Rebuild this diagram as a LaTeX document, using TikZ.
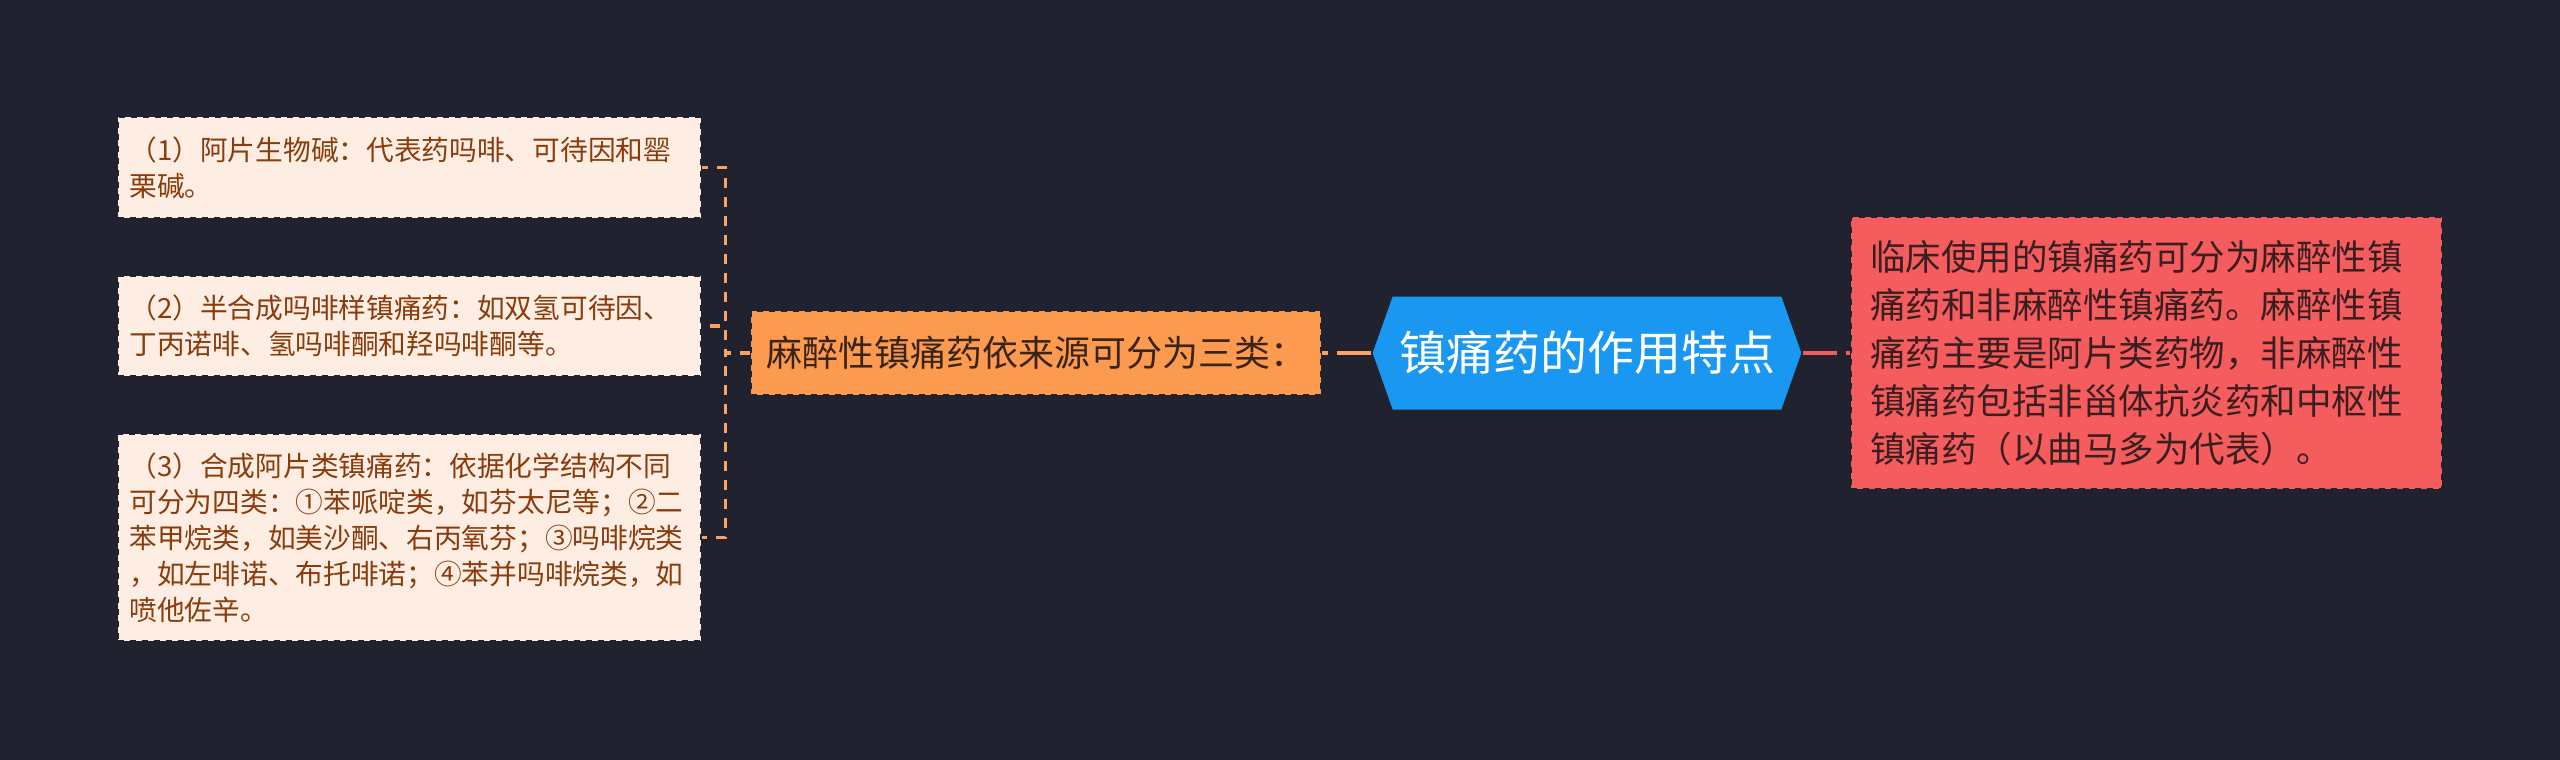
\documentclass[tikz,border=0pt]{standalone}
\usepackage{fontspec}
\newfontfamily\cjk{Noto Sans CJK SC}
\usepackage{tikz}
\usetikzlibrary{shapes, arrows.meta, positioning}
\definecolor{bgc}{HTML}{20232F}
\definecolor{leaffill}{HTML}{FDEDE2}
\definecolor{leaftext}{HTML}{8A3B0C}
\definecolor{branchfill}{HTML}{FC9A50}
\definecolor{branchtext}{HTML}{3A2416}
\definecolor{corefill}{HTML}{1A97F0}
\definecolor{notefill}{HTML}{F45C5D}
\definecolor{notetext}{HTML}{3A1E20}
\definecolor{orangelink}{HTML}{F8A266}
\definecolor{redlink}{HTML}{F05C5C}

\begin{document}
\begin{tikzpicture}[x=0.5pt,y=-0.5pt,
  leaf/.style={draw=bgc, dashed, line width=0.6pt, fill=leaffill, text=leaftext,
    font=\cjk\fontsize{13.85}{18}\selectfont, align=left, text width=280pt,
    inner xsep=5.75pt, inner ysep=0pt},
  branch/.style={draw=bgc, dashed, line width=0.6pt, fill=branchfill, text=branchtext,
    font=\cjk\fontsize{18}{22}\selectfont, minimum width=285pt, minimum height=42pt, inner sep=0pt},
  core/.style={signal, signal to=east and west, signal pointer angle=141, draw=bgc, line width=0.5pt,
    fill=corefill, text=white, font=\cjk\fontsize{23.5}{28}\selectfont,
    minimum width=215pt, minimum height=57pt, inner sep=0pt},
  note/.style={draw=bgc, dashed, line width=0.6pt, fill=notefill, text=notetext,
    font=\cjk\fontsize{17.75}{24}\selectfont, align=left, text width=276.5pt,
    inner xsep=9.5pt, minimum height=136pt, inner ysep=0pt},
  leaflink/.style={orangelink, line width=1.6pt, dash pattern=on 5pt off 4.5pt},
  mainlink/.style={line width=2pt, dash pattern=on 17pt off 4.5pt}]
\fill[bgc] (0,0) rectangle (2560,760);
\useasboundingbox (0,0) rectangle (2560,760);

\node[core] (core) at (1587,353) {镇痛药的作用特点};
\node[branch] (branch) at (1036,353) {麻醉性镇痛药依来源可分为三类：};
\node[note] (note) at (2146.5,353) {临床使用的镇痛药可分为麻醉性镇\\痛药和非麻醉性镇痛药。麻醉性镇\\痛药主要是阿片类药物，非麻醉性\\镇痛药包括非甾体抗炎药和中枢性\\镇痛药（以曲马多为代表）。};

\node[leaf, minimum height=50.5pt] (leaf1) at (409.5,167.5) {（1）阿片生物碱：代表药吗啡、可待因和罂\\栗碱。};
\node[leaf, minimum height=50pt] (leaf2) at (409.5,326) {（2）半合成吗啡样镇痛药：如双氢可待因、\\丁丙诺啡、氢吗啡酮和羟吗啡酮等。};
\node[leaf, minimum height=103.5pt] (leaf3) at (409.5,537.5) {（3）合成阿片类镇痛药：依据化学结构不同\\可分为四类：①苯哌啶类，如芬太尼等；②二\\苯甲烷类，如美沙酮、右丙氧芬；③吗啡烷类\\，如左啡诺、布托啡诺；④苯并吗啡烷类，如\\喷他佐辛。};

\draw[mainlink, orangelink] (core.west) -- (branch.east);
\draw[mainlink, redlink] (core.east) -- (note.west);
\foreach \n in {1,2,3}
  \draw[leaflink] (branch.west) -- ++(-25,0) |- (leaf\n.east);
\end{tikzpicture}
\end{document}
